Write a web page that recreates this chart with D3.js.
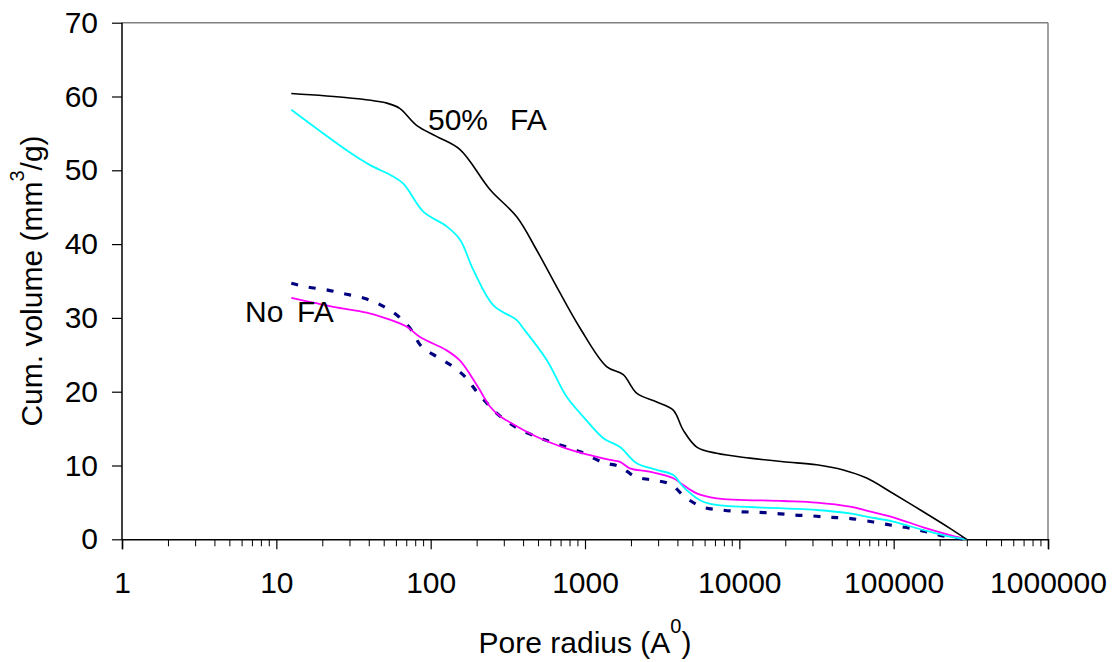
<!DOCTYPE html>
<html>
<head>
<meta charset="utf-8">
<script src="https://cdn.jsdelivr.net/npm/d3@7"></script>
<style>
  html, body { margin: 0; padding: 0; background: #fff; }
  text { font-family: "Liberation Sans", Arial, Helvetica, sans-serif; fill: #000; }
</style>
</head>
<body>
<svg id="chart" width="1116" height="662"></svg>
<script>
// ---- data: [pore radius (Å), cumulative volume (mm3/g)] ----
const fa50 = [[12.5,60.4],[30,59.8],[52,59.1],[63,58.4],[81,56.1],[109,54.6],[155,52.8],[242,47.4],[361,43.7],[486,39.2],[656,34.2],[930,28.6],[1380,23.4],[1770,22.3],[2160,19.8],[2920,18.6],[3730,17.5],[4330,14.8],[5300,12.5],[7130,11.65],[11700,11.0],[19300,10.5],[31700,10.1],[47200,9.4],[66800,8.3],[99300,6.2],[155500,3.74],[231600,1.49],[297000,0]];
const faCyan = [[12.5,58.2],[30,52.4],[40.5,50.7],[54.5,49.4],[66.5,48.2],[89.6,44.4],[127,42.4],[155,40.6],[189,36.5],[255,31.7],[361,29.7],[398,28.6],[565,24.3],[761,19.3],[975,16.6],[1315,13.7],[1686,12.5],[2163,10.3],[2916,9.4],[3733,8.7],[4335,7.1],[5560,5.3],[7130,4.65],[19270,4.2],[31700,3.97],[52100,3.5],[66800,3.06],[99300,2.4],[155500,1.26],[231600,0.35],[297000,0]];
const faMagenta = [[12.5,32.7],[23.4,31.5],[38.5,30.7],[51.9,29.9],[70,28.8],[85.3,27.4],[127,25.6],[155,24.2],[199,20.9],[242,18.0],[281,16.7],[311,16.1],[486,13.9],[761,12.3],[1077,11.4],[1452,10.75],[1686,10.5],[1950,9.62],[2620,9.16],[3733,8.27],[4335,7.36],[5296,6.23],[7130,5.56],[19270,5.19],[31700,4.96],[52100,4.42],[66800,3.9],[99300,2.98],[155500,1.63],[231600,0.58],[297000,0]];
const noFA = [[12.5,34.7],[15.7,34.2],[21.2,33.8],[27.2,33.3],[36.6,32.7],[47,31.8],[60.3,30.4],[73.5,28.6],[87.5,26.1],[115,24.5],[144,23.2],[171,21.8],[199,20.0],[240,18.1],[281,16.7],[370,15.0],[498,13.8],[639,13.0],[929,11.87],[1315,10.4],[1686,9.84],[2110,8.5],[2706,8.04],[3556,7.5],[4560,5.56],[5845,4.34],[7690,3.97],[10100,3.74],[13270,3.66],[17460,3.5],[22390,3.3],[30140,3.16],[38700,2.98],[50860,2.85],[73800,2.35],[97000,1.9],[127700,1.49],[167800,0.95],[220600,0.35],[297000,0]];

const xTickValues = [1, 10, 100, 1000, 10000, 100000, 1000000];
const xTickLabels = ["1", "10", "100", "1000", "10000", "100000", "1000000"];
const yTickValues = [0, 10, 20, 30, 40, 50, 60, 70];

// ---- layout ----
const svg = d3.select("#chart");
const pL = 122, pR = 1048, pT = 22.7, pB = 539.3;

const x = d3.scaleLog().domain([1, 1e6]).range([pL, pR]);
const y = d3.scaleLinear().domain([0, 70]).range([pB, pT]);

// plot frame (top & right gray)
svg.append("line").attr("x1", pL).attr("x2", pR).attr("y1", pT).attr("y2", pT)
  .attr("stroke", "#808080").attr("stroke-width", 1.5);
svg.append("line").attr("x1", pR).attr("x2", pR).attr("y1", pT).attr("y2", pB)
  .attr("stroke", "#808080").attr("stroke-width", 1.5);

// minor x ticks
const minor = [];
for (let d = 1; d < 1e6; d *= 10) for (let k = 2; k <= 9; k++) minor.push(d * k);
svg.append("g").selectAll("line").data(minor).join("line")
  .attr("x1", d => x(d)).attr("x2", d => x(d))
  .attr("y1", pB).attr("y2", pB + 7)
  .attr("stroke", "#000").attr("stroke-width", 1);

// x axis
const xAxis = d3.axisBottom(x).tickValues(xTickValues)
  .tickFormat((d, i) => xTickLabels[i]).tickSize(10).tickPadding(22);
const gx = svg.append("g").attr("transform", `translate(0,${pB})`).call(xAxis);
gx.select(".domain").attr("stroke", "#000").attr("stroke-width", 1.5);
gx.selectAll(".tick line").attr("stroke", "#000").attr("stroke-width", 1.2);
gx.selectAll(".tick text").attr("font-size", 30).attr("fill", "#000")
  .attr("font-family", "Liberation Sans, Arial, sans-serif");

// y axis
const yAxis = d3.axisLeft(y).tickValues(yTickValues).tickSize(10).tickPadding(14);
const gy = svg.append("g").attr("transform", `translate(${pL},0)`).call(yAxis);
gy.select(".domain").attr("stroke", "#000").attr("stroke-width", 1.5).attr("d", `M0,${pT}V${pB}`);
gy.selectAll(".tick line").attr("stroke", "#000").attr("stroke-width", 1.2);
gy.selectAll(".tick text").attr("font-size", 30).attr("fill", "#000")
  .attr("font-family", "Liberation Sans, Arial, sans-serif");

// lines (smoothed like the original)
const line = d3.line().x(d => x(d[0])).y(d => y(d[1])).curve(d3.curveCatmullRom.alpha(0.5));
const plot = svg.append("g");
plot.append("path").datum(noFA).attr("d", line).attr("fill", "none")
  .attr("stroke", "#000080").attr("stroke-width", 3.2).attr("stroke-dasharray", "7,11");
plot.append("path").datum(faMagenta).attr("d", line).attr("fill", "none")
  .attr("stroke", "#FF00FF").attr("stroke-width", 1.8);
plot.append("path").datum(faCyan).attr("d", line).attr("fill", "none")
  .attr("stroke", "#00FFFF").attr("stroke-width", 1.8);
plot.append("path").datum(fa50).attr("d", line).attr("fill", "none")
  .attr("stroke", "#000").attr("stroke-width", 1.6);

// annotations
const ann = svg.append("g").attr("font-size", 30);
ann.append("text").attr("x", 428).attr("y", 130).text("50%");
ann.append("text").attr("x", 510).attr("y", 130).text("FA");
ann.append("text").attr("x", 245).attr("y", 322).text("No");
ann.append("text").attr("x", 297).attr("y", 322).text("FA");

// axis titles
const xt = svg.append("text").attr("x", (pL + pR) / 2).attr("y", 653)
  .attr("text-anchor", "middle").attr("font-size", 30);
xt.append("tspan").text("Pore radius (A");
xt.append("tspan").attr("font-size", 20).attr("dy", -20).text("0");
xt.append("tspan").attr("dy", 20).text(")");

const yt = svg.append("text")
  .attr("transform", `translate(42,${(pT + pB) / 2}) rotate(-90)`)
  .attr("text-anchor", "middle").attr("font-size", 30);
yt.append("tspan").text("Cum. volume (mm");
yt.append("tspan").attr("font-size", 20).attr("dy", -18).text("3");
yt.append("tspan").attr("dy", 18).text("/g)");
</script>
</body>
</html>
